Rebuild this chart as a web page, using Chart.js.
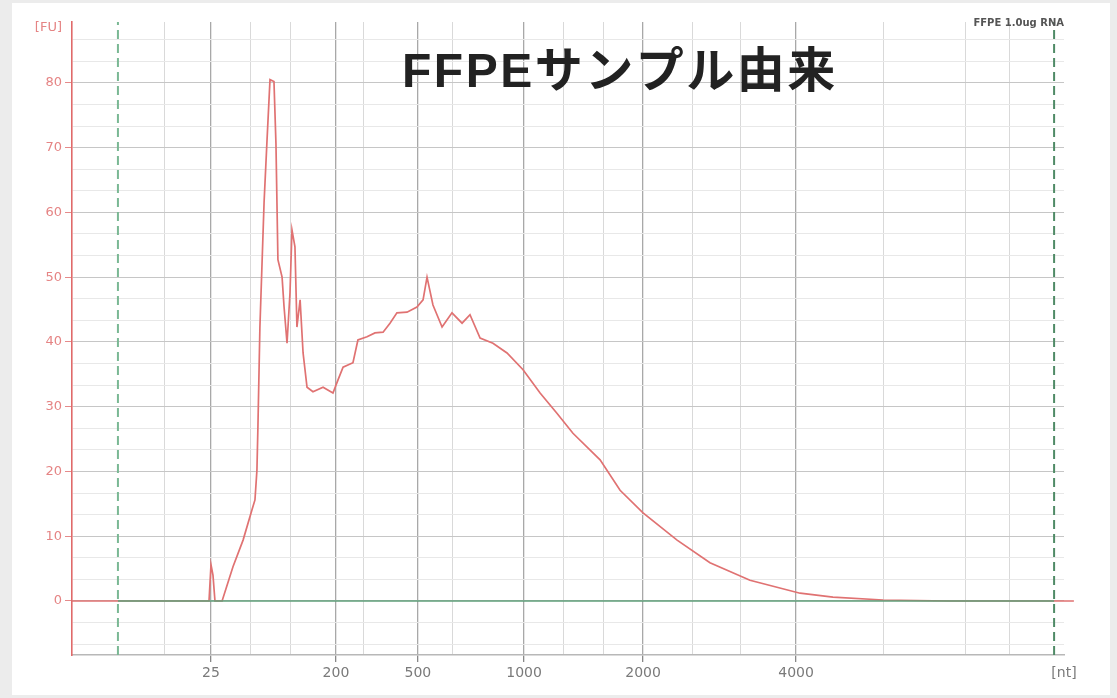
<!DOCTYPE html>
<html>
<head>
<meta charset="utf-8">
<script src="https://cdn.jsdelivr.net/npm/chart.js@4.4.1/dist/chart.umd.min.js"></script>
<style>
  html, body { margin: 0; padding: 0; background: #ececec; }
  #wrap { position: relative; width: 1117px; height: 698px; }
  #panel { position: absolute; left: 12px; top: 3px; width: 1098px; height: 692px; background: #ffffff; }
  #chart { position: absolute; left: 0; top: 0; }
</style>
</head>
<body>
<div id="wrap">
  <div id="panel"></div>
  <canvas id="chart" width="1117" height="698"></canvas>
</div>
<script>
// Electropherogram trace: migration time (s) vs fluorescence (FU)
const traceTime = [
  19.00, 25.72, 25.92, 26.02, 26.12, 26.22, 26.58, 27.13, 27.64, 28.09,
  28.24, 28.34, 28.39, 28.49, 28.70, 28.85, 29.00, 29.20, 29.30, 29.40,
  29.61, 29.71, 29.86, 30.01, 30.11, 30.26, 30.36, 30.52, 30.67, 30.87,
  31.17, 31.68, 32.18, 32.43, 32.69, 33.19, 33.44, 33.90, 34.30, 34.71,
  35.06, 35.41, 35.92, 36.42, 36.73, 36.93, 37.23, 37.69, 38.19, 38.70,
  39.10, 39.61, 40.26, 40.97, 41.78, 42.64, 43.49, 44.30, 45.67, 46.68,
  47.84, 49.56, 51.22, 53.24, 55.77, 57.43, 59.96, 63.34, 69.60
];
const traceFU = [
  0.0, 0.0, 0.0, 5.6, 4.0, 0.0, 0.0, 5.3, 9.4, 14.1,
  15.6, 20.2, 26.9, 42.3, 61.5, 71.2, 80.5, 80.2, 70.7, 52.7,
  50.0, 45.4, 39.8, 47.6, 57.3, 54.7, 42.3, 46.5, 38.3, 33.0,
  32.3, 33.0, 32.1, 34.1, 36.1, 36.8, 40.3, 40.8, 41.4, 41.5,
  42.9, 44.5, 44.6, 45.4, 46.5, 50.0, 45.7, 42.3, 44.5, 42.9,
  44.2, 40.6, 39.8, 38.3, 35.7, 32.1, 29.0, 25.9, 21.8, 17.1,
  13.6, 9.4, 5.9, 3.2, 1.2, 0.6, 0.15, 0.0, 0.0
];

// Ladder sizes and the migration times where they appear
const ladderLabels = ['25', '200', '500', '1000', '2000', '4000'];
const ladderTimes  = [26.02, 32.33, 36.47, 41.83, 47.84, 55.57];
// Fine time gridlines between ladder positions
const minorTimes = [23.65, 27.99, 30.01, 33.70, 38.24, 43.80, 45.82, 50.36, 52.74, 59.96, 64.15, 66.37];
// Analysis window (start / end marker) and its baseline level
const windowTimes = [21.32, 68.60];
const baselineFU = 0;

const timeMin = 19, timeMax = 69.1;
const fuMin = -8.34, fuMax = 89.4;
const fuMajor = [0, 10, 20, 30, 40, 50, 60, 70, 80];
const fuUnitLabel = '[FU]', fuUnitAt = 88.6;
const ntUnitLabel = '[nt]';

const titleText = 'FFPEサンプル由来';
const captionText = 'FFPE 1.0ug RNA';

// y gridlines every third of a major step
const fuGrid = [];
for (let k = -2; k <= 26; k++) fuGrid.push(k * 10 / 3);
const isMajorFU = v => fuMajor.some(m => Math.abs(m - v) < 1e-6);

const overlayText = {
  id: 'overlayText',
  afterDraw(chart) {
    const ctx = chart.ctx;
    ctx.save();
    ctx.fillStyle = '#222222';
    ctx.font = 'bold 48px "Liberation Sans", "Noto Sans CJK JP", sans-serif';
    ctx.textBaseline = 'alphabetic';
    ctx.textAlign = 'left';
    if ('letterSpacing' in ctx) ctx.letterSpacing = '2.5px';
    ctx.fillText(titleText, 402, 87);
    if ('letterSpacing' in ctx) ctx.letterSpacing = '0px';
    ctx.fillStyle = '#555555';
    ctx.font = 'bold 10px "DejaVu Sans", sans-serif';
    ctx.textAlign = 'right';
    ctx.fillText(captionText, 1064, 26);
    ctx.restore();
  }
};

const pt = (t, v) => ({ x: t, y: v });

new Chart(document.getElementById('chart'), {
  type: 'line',
  data: {
    datasets: [
      {
        label: 'baseline',
        data: windowTimes.map(t => pt(t, baselineFU)),
        borderColor: '#5f9f7a',
        borderWidth: 1.6,
        pointRadius: 0,
        order: 0
      },
      {
        label: 'window start',
        data: [pt(windowTimes[0], fuMin), pt(windowTimes[0], fuMax)],
        borderColor: '#7ab894',
        borderWidth: 2,
        borderDash: [9, 5],
        pointRadius: 0,
        order: 1
      },
      {
        label: 'window end',
        data: [pt(windowTimes[1], fuMin), pt(windowTimes[1], fuMax)],
        borderColor: '#4f8a66',
        borderWidth: 2,
        borderDash: [9, 5],
        pointRadius: 0,
        order: 1
      },
      {
        label: 'sample',
        data: traceTime.map((t, i) => pt(t, traceFU[i])),
        borderColor: '#e07272',
        borderWidth: 1.7,
        pointRadius: 0,
        tension: 0,
        clip: false,
        order: 2
      }
    ]
  },
  options: {
    responsive: false,
    animation: false,
    layout: { padding: { left: 0, top: 22, right: 53, bottom: 0 } },
    plugins: { legend: { display: false }, tooltip: { enabled: false }, title: { display: false } },
    scales: {
      x: {
        type: 'linear',
        min: timeMin,
        max: timeMax,
        afterFit(scale) { scale.height = 43; },
        afterBuildTicks(scale) {
          const vals = ladderTimes.concat(minorTimes, [timeMax]).sort((a, b) => a - b);
          scale.ticks = vals.map(v => ({ value: v }));
        },
        border: { color: '#b8b8b8', width: 1.5 },
        grid: {
          color: c => {
            const v = c.tick ? c.tick.value : null;
            if (v === timeMax) return 'rgba(0,0,0,0)';
            return ladderTimes.includes(v) ? '#a8a8a8' : '#d9d9d9';
          },
          lineWidth: c => (c.tick && ladderTimes.includes(c.tick.value)) ? 1.3 : 1,
          tickColor: c => (c.tick && ladderTimes.includes(c.tick.value)) ? '#888888' : 'rgba(0,0,0,0)',
          tickLength: 7
        },
        ticks: {
          autoSkip: false,
          maxRotation: 0,
          padding: 3,
          color: '#7a7a7a',
          font: { family: '"DejaVu Sans", sans-serif', size: 14 },
          callback: v => {
            const i = ladderTimes.indexOf(v);
            if (i >= 0) return ladderLabels[i];
            return v === timeMax ? ntUnitLabel : '';
          }
        }
      },
      y: {
        type: 'linear',
        min: fuMin,
        max: fuMax,
        afterFit(scale) { scale.width = 72; },
        afterBuildTicks(scale) {
          scale.ticks = fuGrid.concat([fuUnitAt]).map(v => ({ value: v }));
        },
        border: { color: '#e06a6a', width: 1.6 },
        grid: {
          color: c => {
            const v = c.tick ? c.tick.value : null;
            if (v === fuUnitAt) return 'rgba(0,0,0,0)';
            return isMajorFU(v) ? '#c6c6c6' : '#e8e8e8';
          },
          tickColor: c => (c.tick && isMajorFU(c.tick.value)) ? '#e58a8a' : 'rgba(0,0,0,0)',
          tickLength: 7
        },
        ticks: {
          autoSkip: false,
          padding: 3,
          color: '#e58484',
          font: { family: '"DejaVu Sans", sans-serif', size: 13 },
          callback: v => {
            if (v === fuUnitAt) return fuUnitLabel;
            return isMajorFU(v) ? String(Math.round(v)) : '';
          }
        }
      }
    }
  },
  plugins: [overlayText]
});
</script>
</body>
</html>
